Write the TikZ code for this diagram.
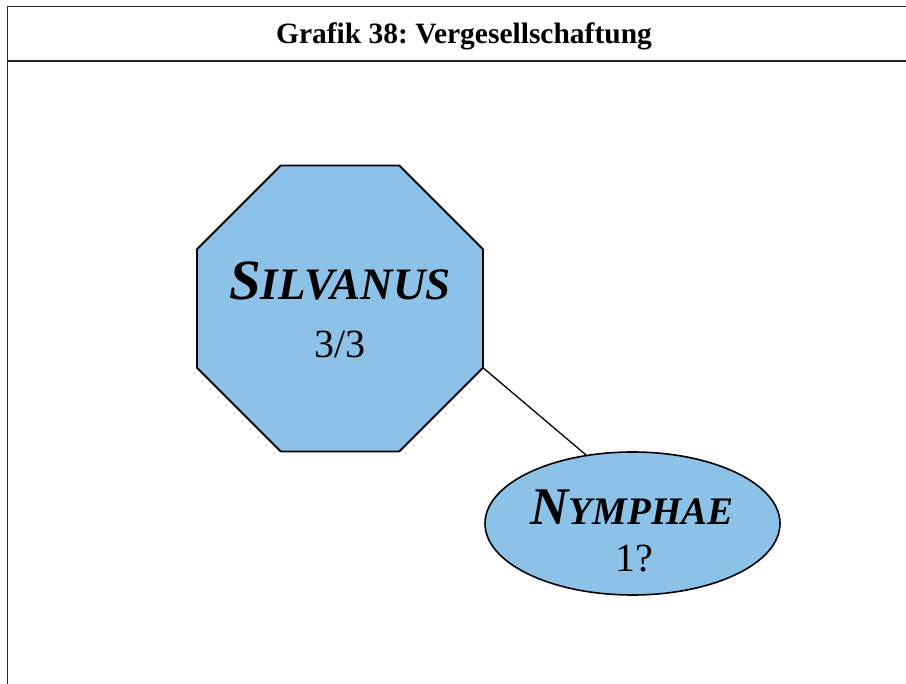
\documentclass[tikz,border=0pt]{standalone}
\usepackage{fontspec}
\setmainfont{Liberation Serif}
\usetikzlibrary{shapes.geometric}
\frenchspacing
\definecolor{nodeblue}{RGB}{141,194,232}
\tikzset{
  frame/.style={line width=1.8pt, draw=black!85},
  octo/.style={regular polygon, regular polygon sides=8, minimum size=309.6pt,
    fill=nodeblue, draw=black, line width=1.8pt, inner sep=0pt, outer sep=0pt, align=center},
  ell/.style={ellipse, minimum width=295pt, minimum height=143pt,
    fill=nodeblue, draw=black, line width=1.6pt, inner sep=0pt, outer sep=0pt, align=center},
  link/.style={line width=1.3pt, draw=black},
  titletext/.style={font=\fontsize{29.5}{34}\selectfont\bfseries}
}
\begin{document}
\begin{tikzpicture}[x=1pt,y=-1pt]
\useasboundingbox (0,0) rectangle (906,684);
\coordinate (fbl) at (7.5,690);
\coordinate (ftl) at (7.5,6.5);
\coordinate (ftr) at (910,6.5);
\coordinate (sl) at (7.5,61);
\coordinate (sr) at (910,61);
\draw[frame] (fbl) -- (ftl) -- (ftr);
\draw[frame] (sl) -- (sr);
\node[titletext, anchor=base] (title) at (464,43.5) {Grafik 38: Vergesellschaftung};
\node[octo] (silv) at (340,308.5) {};
\node[ell] (nym) at (632.5,523.5) {};
\node[anchor=base, font=\bfseries\itshape] (silvname) at (340,300)
  {\fontsize{57}{64}\selectfont S\fontsize{45}{50}\selectfont ILVANUS};
\node[anchor=base] (silvnum) at (340,358) {\fontsize{40}{46}\selectfont 3/3};
\node[anchor=base, font=\bfseries\itshape] (nymname) at (632,525)
  {\fontsize{53}{60}\selectfont N\fontsize{39}{44}\selectfont YMPHAE};
\node[anchor=base] (nymnum) at (634,572) {\fontsize{40}{46}\selectfont 1?};
\draw[link] (silv.corner 7) -- (nym.124);
\end{tikzpicture}
\end{document}
